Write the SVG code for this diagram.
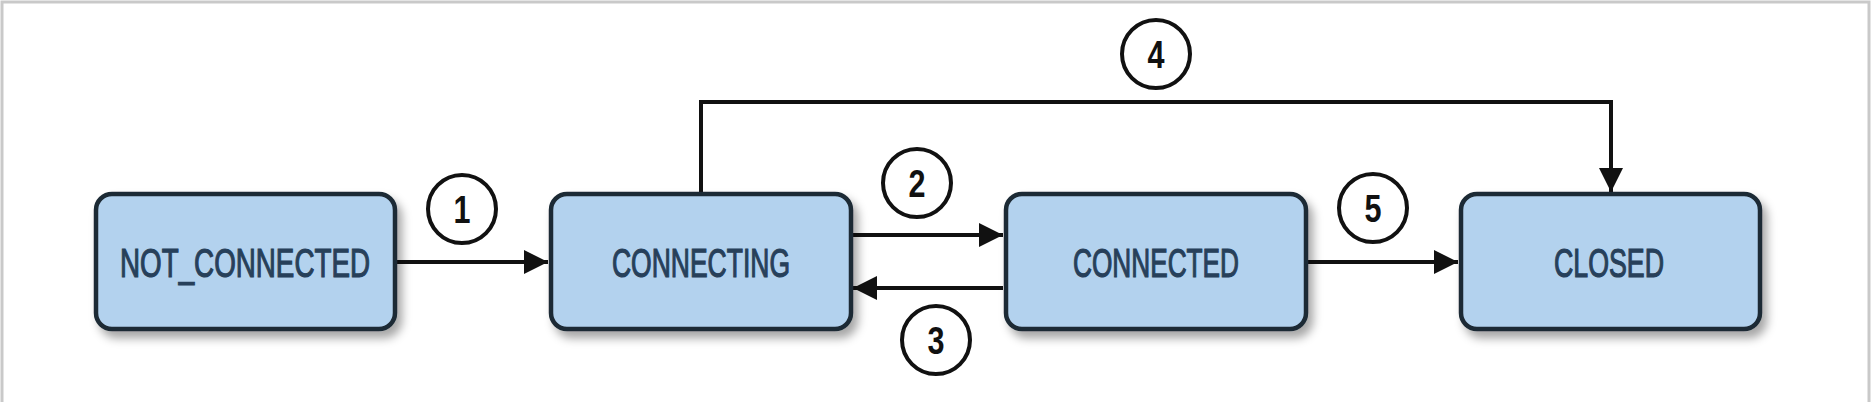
<svg xmlns="http://www.w3.org/2000/svg" width="1872" height="402" viewBox="0 0 1872 402">
<style>
.box{fill:#b3d2ee;stroke:#1f2b35;stroke-width:4.5}
.lbl{font-family:"Liberation Sans",Arial,sans-serif;font-size:40px;fill:#27405a;stroke:#27405a;stroke-width:1.2;text-anchor:middle}
.conn{fill:none;stroke:#111;stroke-width:4}
.badge circle{fill:#fff;stroke:#111;stroke-width:4}
.badge text{font-family:"Liberation Sans",Arial,sans-serif;font-weight:bold;font-size:38px;fill:#111;text-anchor:middle}
</style>
<defs>
<filter id="sh" x="-10%" y="-20%" width="130%" height="150%">
<feDropShadow dx="5" dy="7" stdDeviation="5" flood-color="#000" flood-opacity="0.35"/>
</filter>
<marker id="ah" viewBox="0 0 10 10" refX="10" refY="5" markerWidth="6" markerHeight="6" markerUnits="strokeWidth" orient="auto">
<path d="M0,0 L10,5 L0,10 z" fill="#111"/>
</marker>
</defs>
<rect x="0" y="0" width="1872" height="402" fill="#fff"/>
<path d="M2,402 V2 H1869 V402" fill="none" stroke="#c9c9c9" stroke-width="3"/>
<g id="connectors">
<line class="conn" x1="397" y1="262" x2="548" y2="262" marker-end="url(#ah)"/>
<line class="conn" x1="853" y1="235" x2="1003" y2="235" marker-end="url(#ah)"/>
<line class="conn" x1="1003" y1="288" x2="853" y2="288" marker-end="url(#ah)"/>
<path class="conn" d="M701,192 V102 H1611 V192" marker-end="url(#ah)"/>
<line class="conn" x1="1308" y1="262" x2="1458" y2="262" marker-end="url(#ah)"/>
</g>
<g id="node-not-connected">
<rect class="box" x="96" y="194" width="299" height="135" rx="16" filter="url(#sh)"/>
<text class="lbl" x="245" y="277" textLength="250" lengthAdjust="spacingAndGlyphs">NOT_CONNECTED</text>
</g>
<g id="node-connecting">
<rect class="box" x="551" y="194" width="300" height="135" rx="16" filter="url(#sh)"/>
<text class="lbl" x="701" y="277" textLength="178" lengthAdjust="spacingAndGlyphs">CONNECTING</text>
</g>
<g id="node-connected">
<rect class="box" x="1006" y="194" width="300" height="135" rx="16" filter="url(#sh)"/>
<text class="lbl" x="1156" y="277" textLength="166" lengthAdjust="spacingAndGlyphs">CONNECTED</text>
</g>
<g id="node-closed">
<rect class="box" x="1461" y="194" width="299" height="135" rx="16" filter="url(#sh)"/>
<text class="lbl" x="1609" y="277" textLength="110" lengthAdjust="spacingAndGlyphs">CLOSED</text>
</g>
<g id="badge-1" class="badge"><circle cx="462" cy="209" r="34"/><text x="462" y="223" textLength="17" lengthAdjust="spacingAndGlyphs">1</text></g>
<g id="badge-2" class="badge"><circle cx="917" cy="183" r="34"/><text x="917" y="197" textLength="17" lengthAdjust="spacingAndGlyphs">2</text></g>
<g id="badge-3" class="badge"><circle cx="936" cy="340" r="34"/><text x="936" y="354" textLength="17" lengthAdjust="spacingAndGlyphs">3</text></g>
<g id="badge-4" class="badge"><circle cx="1156" cy="54" r="34"/><text x="1156" y="68" textLength="17" lengthAdjust="spacingAndGlyphs">4</text></g>
<g id="badge-5" class="badge"><circle cx="1373" cy="208" r="34"/><text x="1373" y="222" textLength="17" lengthAdjust="spacingAndGlyphs">5</text></g>
</svg>
